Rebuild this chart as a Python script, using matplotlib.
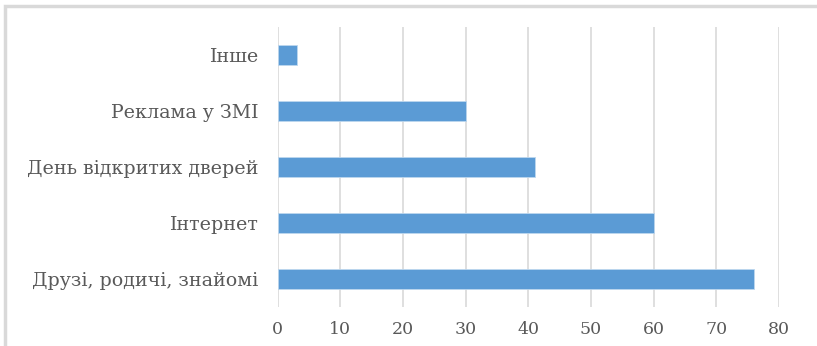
import matplotlib.pyplot as plt
from matplotlib.patches import Rectangle

# Data (bottom to top)
categories = ['Друзі, родичі, знайомі', 'Інтернет', 'День відкритих дверей', 'Реклама у ЗМІ', 'Інше']
values = [76, 60, 41, 30, 3]
xticks = [0, 10, 20, 30, 40, 50, 60, 70, 80]

plt.rcParams['font.family'] = ['DejaVu Serif']

fig = plt.figure(figsize=(8.17, 3.46), dpi=100)
ax = fig.add_axes([0.340, 0.1127, 0.6135, 0.8093])

# light outer frame (only the left and top edges fall inside the picture)
fig.patches.append(Rectangle((5 / 817, -0.1), 1.2, 1.0824, transform=fig.transFigure,
                             fill=False, edgecolor='#d9d9d9', linewidth=2.5))

ax.barh(range(len(categories)), values, height=0.34, color='#5b9bd5',
        edgecolor='#bdd7ee', linewidth=0.6, zorder=3)

ax.set_xlim(0, 80)
ax.set_ylim(-0.5, 4.5)
ax.set_xticks(xticks)
ax.set_yticks(range(len(categories)))
ax.set_yticklabels(categories)
ax.grid(axis='x', color='#d9d9d9', linewidth=1.2, zorder=0)
for s in ax.spines.values():
    s.set_visible(False)
ax.tick_params(length=0, labelsize=12.5, colors='#595959')
ax.tick_params(axis='y', labelsize=13.7, pad=14)
ax.tick_params(axis='x', pad=10)

fig.savefig('out.png', dpi=100)
